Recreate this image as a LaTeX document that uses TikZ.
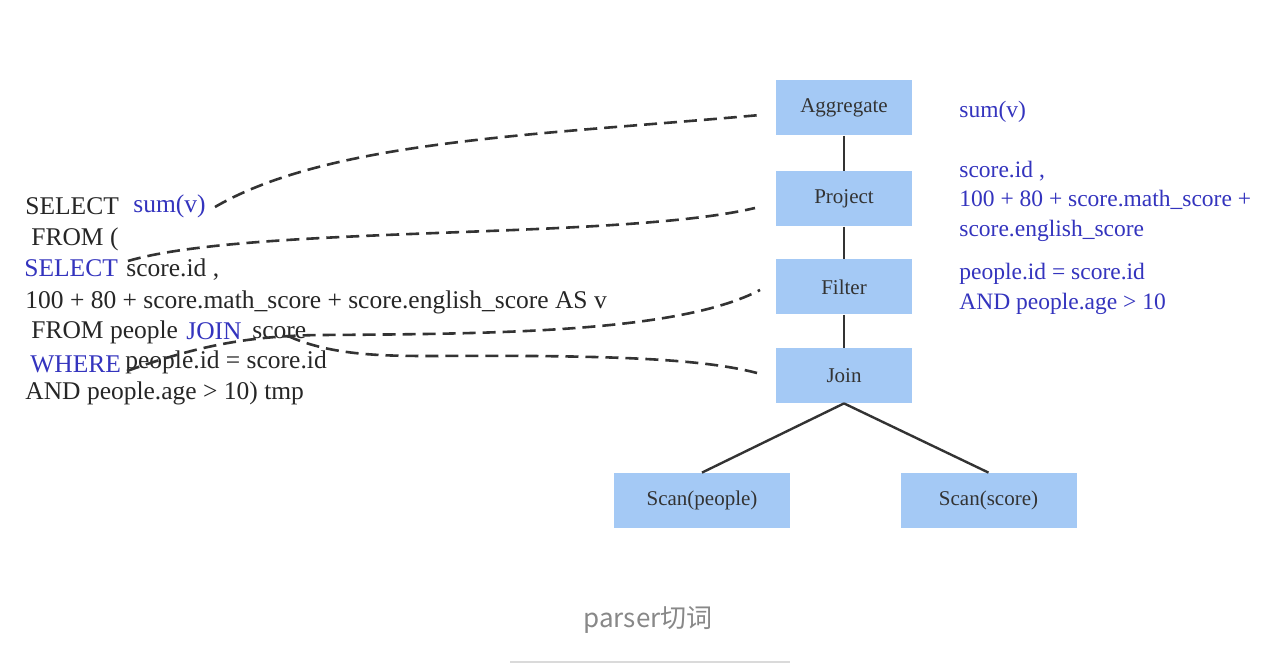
\documentclass[tikz,border=0pt]{standalone}
\usepackage{fontspec}
\setmainfont{Liberation Serif}
\newfontfamily\captionfont{Noto Sans CJK SC}
\definecolor{opfill}{RGB}{164,201,245}
\definecolor{sqlblue}{RGB}{52,52,190}
\definecolor{linegray}{RGB}{51,51,51}
\definecolor{captiongray}{RGB}{136,136,136}
\definecolor{rulegray}{RGB}{218,218,218}

\begin{document}
\begin{tikzpicture}[x=0.5pt,y=-0.5pt,
    op/.style={fill=opfill,minimum width=68pt,minimum height=27.5pt,inner sep=0pt,
      text=linegray,font=\fontsize{10.5}{12}\selectfont},
    sql/.style={anchor=base west,inner sep=0pt,text=black!85,font=\fontsize{12.75}{15}\selectfont},
    kw/.style={sql,text=sqlblue},
    note/.style={anchor=base west,inner sep=0pt,text=sqlblue,font=\fontsize{11.75}{14}\selectfont},
    link/.style={dash pattern=on 6.5pt off 3.5pt,line width=1.3pt,draw=linegray},
    treeline/.style={line width=1.2pt,draw=linegray}]
  \useasboundingbox[fill=white] (0,0) rectangle (1264,668);

  % operator tree
  \node[op] (agg)    at (844,108)   {Aggregate};
  \node[op] (proj)   at (844,199)   {Project};
  \node[op] (filter) at (844,287)   {Filter};
  \node[op] (join)   at (844,375.5) {Join};
  \node[op,minimum width=88pt] (scanp) at (702,500.5)   {Scan(people)};
  \node[op,minimum width=88pt] (scans) at (988.5,500.5) {Scan(score)};

  \begin{scope}[treeline]
    \draw (agg) -- (proj);
    \draw (proj) -- (filter);
    \draw (filter) -- (join);
    \draw (join.south) -- (scanp.north);
    \draw (join.south) -- (scans.north);
  \end{scope}

  % notes beside the tree
  \node[note] (nsum)   at (959,118) {sum(v)};
  \node[note] (nproj1) at (959,178) {score.id ,};
  \node[note] (nproj2) at (959,207) {100 + 80 + score.math\_score +};
  \node[note] (nproj3) at (959,237) {score.english\_score};
  \node[note] (nfil1)  at (959,280) {people.id = score.id};
  \node[note] (nfil2)  at (959,310) {AND people.age > 10};

  % sql text
  \node[sql] (l1)    at (25,215)  {SELECT};
  \node[kw]  (l1sum) at (133,213) {sum(v)};
  \node[sql] (l2)    at (31,246)  {FROM (};
  \node[kw]  (l3sel) at (24,277)  {SELECT};
  \node[sql] (l3)    at (126,277) {score.id ,};
  \node[sql] (l4)    at (25,308)  {100 + 80 + score.math\_score + score.english\_score AS v};
  \node[sql] (l5)    at (31,339)  {FROM people};
  \node[kw]  (l5j)   at (186,340) {JOIN};
  \node[sql] (l5s)   at (252,339) {score};
  \node[kw]  (l6w)   at (30,372)  {WHERE};
  \node[sql] (l6)    at (125,369) {people.id = score.id};
  \node[sql] (l7)    at (25,400)  {AND people.age > 10) tmp};

  % dashed links
  \coordinate (sumTip)  at (215,207);
  \coordinate (aggTip)  at (760,115);
  \coordinate (selTip)  at (128,261);
  \coordinate (projTip) at (755,208);
  \coordinate (whTip)   at (127,371);
  \coordinate (filTip)  at (760,290);
  \coordinate (joinSrc) at (288,336);
  \coordinate (joinTip) at (757,373);

  \begin{scope}[link]
    \draw (sumTip) .. controls (330,140) and (540,135) .. (aggTip);
    \draw (selTip) .. controls (250,225) and (620,240) .. (projTip);
    \draw (whTip) .. controls (200,345) and (250,336) .. (320,335)
                  .. controls (500,334) and (680,332) .. (filTip);
    \draw (joinSrc) .. controls (330,355) and (380,356) .. (430,356)
                    .. controls (600,355) and (700,358) .. (joinTip);
  \end{scope}

  % caption
  \node[text=captiongray,font=\captionfont\fontsize{13}{15}\selectfont] (caption) at (648,620) {parser切词};
  \draw[rulegray,line width=1pt] (510,662) -- (790,662);
\end{tikzpicture}
\end{document}
